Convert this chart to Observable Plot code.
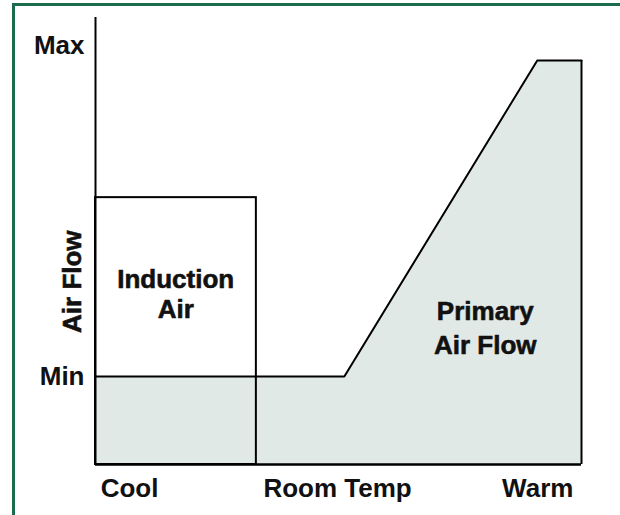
<!DOCTYPE html>
<html>
<head>
<meta charset="utf-8">
<script src="https://cdn.jsdelivr.net/npm/d3@7"></script>
<script src="https://cdn.jsdelivr.net/npm/@observablehq/plot@0.6"></script>
<style>
  html, body { margin: 0; padding: 0; background: #ffffff; }
  #wrap { position: relative; width: 620px; height: 515px; overflow: hidden; }
  #frame { position: absolute; left: 12px; top: 3px; right: -10px; bottom: -10px;
           border-top: 3px solid #1c6b4d; border-left: 3px solid #1c6b4d; pointer-events: none; }
</style>
</head>
<body>
<div id="wrap"><div id="frame"></div></div>
<script>
// Levels on a 0–100 relative scale
const minLevel = 19.7;        // "Min" air flow
const maxLevel = 90.4;        // "Max" air flow
const inductionLevel = 59.7;  // top of induction air box

// Temperature positions on a 0–100 relative scale
const tempStart = 0;
const roomTempEdge = 33.1;    // right edge of induction box
const rampStart = 51.2;       // primary air begins to rise
const rampEnd = 90.9;         // primary air reaches max
const tempEnd = 100;

// Primary air flow profile
const primaryX = [tempStart, rampStart, rampEnd, tempEnd];
const primaryY = [minLevel, minLevel, maxLevel, maxLevel];

// Tick labels
const xTickValues = [7.0, 49.8, 91.0];
const xTickLabels = ["Cool", "Room Temp", "Warm"];
const yTickValues = [minLevel, 93.7];
const yTickLabels = ["Min", "Max"];

// Region labels
const inductionLabel = {x: 16.5, y: 38.3, text: "Induction\nAir"};
const primaryLabel = {x: 80.2, y: 31.0, text: "Primary\nAir Flow"};
const axisTitle = {x: -4.7, y: 40.9, text: "Air Flow"};

const primary = primaryX.map((x, i) => ({x, y: primaryY[i]}));
const xLab = new Map(xTickValues.map((v, i) => [v, xTickLabels[i]]));
const yLab = new Map(yTickValues.map((v, i) => [v, yTickLabels[i]]));

const FONT = "'Liberation Sans', Arial, Helvetica, sans-serif";
const txt = {fontSize: 26, fontWeight: "bold", fill: "#111", stroke: "#111", strokeWidth: 0.6, paintOrder: "fill"};

const chart = Plot.plot({
  width: 620,
  height: 515,
  marginLeft: 95,
  marginRight: 39,
  marginTop: 17,
  marginBottom: 51,
  style: {fontFamily: FONT, fontSize: "26px", fontWeight: "bold", color: "#111", background: "transparent"},
  x: {domain: [tempStart, tempEnd], label: null},
  y: {domain: [0, 100], label: null},
  marks: [
    Plot.areaY(primary, {x: "x", y: "y", fill: "#e1e9e6"}),
    Plot.line(primary, {x: "x", y: "y", stroke: "#000", strokeWidth: 2}),
    Plot.ruleX([tempEnd], {y1: 0, y2: maxLevel, stroke: "#000", strokeWidth: 2}),
    Plot.rect([{x1: tempStart, x2: roomTempEdge, y1: 0, y2: inductionLevel}],
      {x1: "x1", x2: "x2", y1: "y1", y2: "y2", fill: "none", stroke: "#000", strokeWidth: 2}),
    Plot.ruleX([tempStart], {y1: 0, y2: 100, stroke: "#000", strokeWidth: 2}),
    Plot.ruleY([0], {x1: tempStart, x2: tempEnd, stroke: "#000", strokeWidth: 2.5}),
    Plot.text([inductionLabel], {x: "x", y: "y", text: "text", lineHeight: 1.15, ...txt}),
    Plot.text([primaryLabel], {x: "x", y: "y", text: "text", lineHeight: 1.33, ...txt}),
    Plot.text([axisTitle], {x: "x", y: "y", text: "text", rotate: -90, ...txt}),
    Plot.axisX({ticks: xTickValues, tickFormat: (d) => xLab.get(d), tickSize: 0, tickPadding: 14,
      ...txt, label: null}),
    Plot.axisY({ticks: yTickValues, tickFormat: (d) => yLab.get(d), tickSize: 0, tickPadding: 11,
      ...txt, label: null})
  ]
});
document.getElementById("wrap").prepend(chart);
</script>
</body>
</html>
